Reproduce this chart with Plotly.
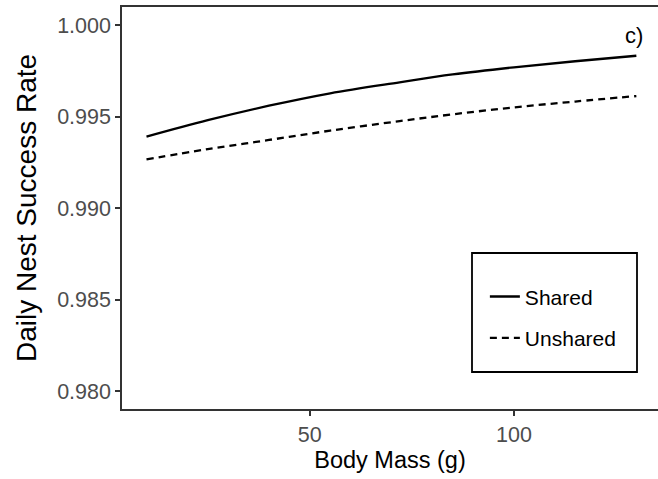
import plotly.graph_objects as go

body_mass = [10, 25, 40, 55, 72, 85, 100, 115, 130]
shared = [0.99390, 0.99480, 0.99559, 0.99627, 0.99687, 0.99730, 0.99769, 0.99802, 0.99832]
unshared = [0.99266, 0.99322, 0.99372, 0.99423, 0.99475, 0.99512, 0.99550, 0.99582, 0.99612]
series_names = ["Shared", "Unshared"]
y_ticks = [0.980, 0.985, 0.990, 0.995, 1.000]
x_ticks = [50, 100]

FONT = "Liberation Sans, Arial, Helvetica, sans-serif"

fig = go.Figure()
fig.add_trace(go.Scatter(x=body_mass, y=shared, mode="lines", name=series_names[0],
                         line=dict(color="black", width=2.3, shape="spline"),
                         legendgroup="a"))
fig.add_trace(go.Scatter(x=body_mass, y=unshared, mode="lines", name=series_names[1],
                         line=dict(color="black", width=2.3, dash="7px,5px", shape="spline"),
                         legendgroup="b"))

fig.update_layout(
    width=658, height=479,
    margin=dict(l=122, r=0, t=7, b=70),
    paper_bgcolor="white", plot_bgcolor="white",
    font=dict(family=FONT, color="black"),
    showlegend=True,
    legend=dict(x=0.677, y=0.33, xanchor="left", yanchor="top",
                bgcolor="rgba(0,0,0,0)", borderwidth=0,
                font=dict(size=21, color="black"), tracegroupgap=11),
    xaxis=dict(range=[4, 135.3], tickvals=x_ticks, showgrid=False, zeroline=False,
               showline=True, linecolor="#333333", linewidth=1.5, mirror=True,
               ticks="outside", ticklen=5, tickwidth=1.5, tickcolor="#333333",
               tickfont=dict(size=21.5, color="#4d4d4d"),
               title=dict(text="Body Mass (g)", font=dict(size=23.5, color="black"), standoff=4)),
    yaxis=dict(range=[0.97902, 1.000985], tickvals=y_ticks, tickformat=".3f",
               showgrid=False, zeroline=False,
               showline=True, linecolor="#333333", linewidth=1.5,
               ticks="outside", ticklen=5, tickwidth=1.5, tickcolor="#333333",
               tickfont=dict(size=21.5, color="#4d4d4d"),
               title=dict(text="Daily Nest Success Rate", font=dict(size=28, color="black"), standoff=12)),
)

fig.add_shape(type="rect", xref="paper", yref="paper",
              x0=(472 - 122) / 536, x1=(637 - 122) / 536,
              y0=(409 - 372) / 402, y1=(409 - 253) / 402,
              line=dict(color="black", width=1.8), fillcolor="rgba(0,0,0,0)")

fig.add_annotation(x=129.3, y=0.99942, xref="x", yref="y", text="c)", showarrow=False,
                   font=dict(size=22, color="black"))

fig.write_html("out.html")
